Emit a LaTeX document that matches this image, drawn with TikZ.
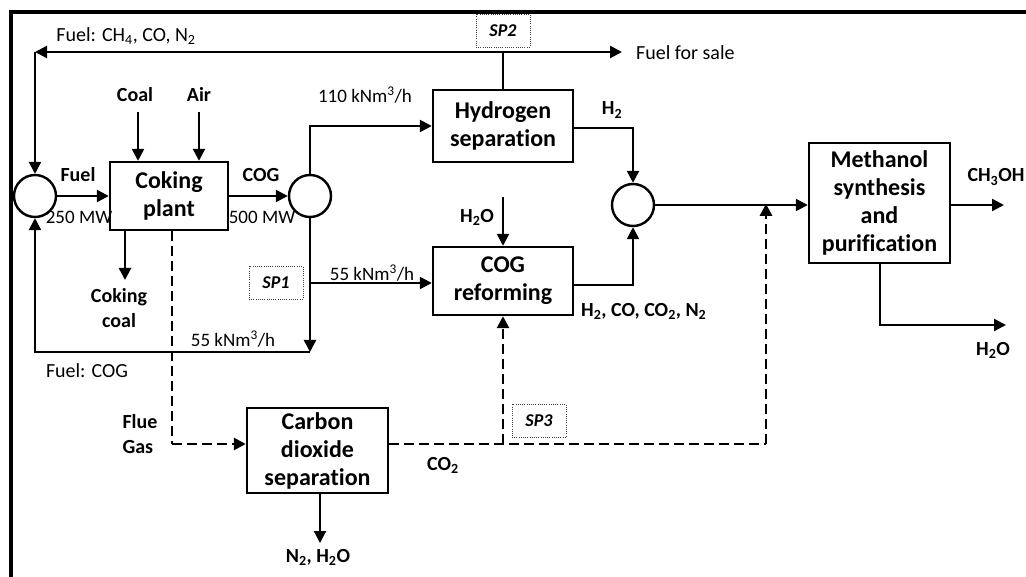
\documentclass[tikz,border=0pt]{standalone}
\usepackage{fontspec}
\setmainfont{Carlito}[Ligatures=NoCommon]
\usetikzlibrary{arrows.meta,calc}
\begin{document}
\begin{tikzpicture}[x=1pt,y=-1pt,
 line width=2.4pt,
 >={Triangle[length=12pt,width=12pt]},
 box/.style={draw,line width=2.4pt,align=center,font=\fontsize{24}{28}\selectfont\bfseries,inner sep=0pt},
 mixer/.style={draw,circle,line width=2.4pt,minimum size=42pt,inner sep=0pt},
 splitbox/.style={draw=black!75,text=black,line width=0.9pt,dash pattern=on 1pt off 1.2pt,font=\fontsize{18}{20}\selectfont\bfseries\itshape,inner sep=0pt,minimum width=54pt,minimum height=33pt},
 blab/.style={font=\fontsize{20}{25}\selectfont\bfseries,align=center,inner sep=0pt},
 rlab/.style={font=\fontsize{20}{22}\selectfont,inner sep=0pt},
 flab/.style={font=\fontsize{19}{22}\selectfont,inner sep=0pt},
 dsh/.style={line width=2.6pt,dash pattern=on 10pt off 5pt}]
\useasboundingbox (0,0) rectangle (1026,577);
% frame
\draw[line width=4pt] (10.5,577) -- (10.5,12.5) -- (1026,12.5);

% process nodes
\node[mixer] (cl) at (35,196) {};
\node[box,minimum width=118pt,minimum height=68pt] (coke) at (169,196) {Coking\\plant};
\node[mixer] (cm) at (310,196) {};
\node[box,minimum width=140pt,minimum height=72pt] (hyd) at (503,126) {Hydrogen\\separation};
\node[box,minimum width=140pt,minimum height=68pt] (ref) at (503,281) {COG\\reforming};
\node[mixer] (mx) at (633,205) {};
\node[box,minimum width=141pt,minimum height=120pt] (meth) at (879.5,203) {Methanol\\synthesis\\and\\purification};
\node[box,minimum width=141pt,minimum height=85pt] (carb) at (317.5,450.5) {Carbon\\dioxide\\separation};

% splitter boxes
\node[splitbox] (sp2) at (503,31) {SP2};
\node[splitbox] (sp1) at (276,283) {SP1};
\node[splitbox] (sp3) at (539,421) {SP3};

% coordinates
\coordinate (tl) at (35,52);
\coordinate (tj) at (503,52);
\coordinate (sale) at (622,52);
\coordinate (coal) at (138,112);
\coordinate (air) at (199,112);
\coordinate (cokecoal) at (125,280);
\coordinate (bj) at (310,352);
\coordinate (bl) at (35,352);
\coordinate (s1) at (310,283);
\coordinate (h2oin) at (503,197);
\coordinate (flue) at (172,444);
\coordinate (n2out) at (320,543);
\coordinate (co2r) at (766,444);
\coordinate (co2j) at (766,205);
\coordinate (s3) at (503,444);
\coordinate (meoh) at (1004,205);
\coordinate (wd) at (880,325);
\coordinate (wout) at (1006,325);

% solid connectors
\draw[->] (cl.east) -- (coke.west);
\draw[->] (coke.east) -- (cm.west);
\draw[->] (coal) -- (coal |- coke.north);
\draw[->] (air) -- (air |- coke.north);
\draw[->] (coke.south -| cokecoal) -- (cokecoal);
\draw[->] (cm.north) |- (hyd.west);
\draw[->] (cm.south) -- (bj);
\draw[->] (bj) -- (bl) -- (cl.south);
\draw[->] (s1) -- (s1 -| ref.west);
\draw (hyd.north) -- (tj);
\draw[->] (tj) -- (tl);
\draw[->] (tl) -- (cl.north);
\draw[->] (tj) -- (sale);
\draw[->] ([yshift=-2pt]hyd.east) -| (mx.north);
\draw[->] ([yshift=-4pt]ref.east) -| (mx.south);
\draw[->] (h2oin) -- (ref.north);
\draw[->] (mx.east) -- (mx.east -| meth.west);
\draw[->] (meth.east |- meoh) -- (meoh);
\draw[->] (meth.south -| wd) -- (wd) -- (wout);
\draw[->] (carb.south -| n2out) -- (n2out);

% dashed connectors
\draw[dsh] (coke.south -| flue) -- (flue);
\draw[dsh,->] (flue) -- (flue -| carb.west);
\draw[dsh] (carb.east |- co2r) -- (co2r);
\draw[dsh,->] (co2r) -- ([yshift=1.2pt]co2j);
\draw[dsh,->] (s3) -- (ref.south);

% labels
\node[rlab] at (126,36) {Fuel: CH\textsubscript{4}, CO, N\textsubscript{2}};
\node[rlab,anchor=west] at (635,53) {Fuel for sale};
\node[blab] at (135,95) {Coal};
\node[blab] at (199,94) {Air};
\node[flab] at (365,95) {110 kNm\textsuperscript{3}/h};
\node[blab] at (78,175) {Fuel};
\node[flab] at (79,217) {250 MW};
\node[blab] at (261,175) {COG};
\node[flab] at (262,217) {500 MW};
\node[blab] at (612,110) {H\textsubscript{2}};
\node[blab] at (996,177) {CH\textsubscript{3}OH};
\node[blab] at (477,217) {H\textsubscript{2}O};
\node[flab] at (372,273) {55 kNm\textsuperscript{3}/h};
\node[blab] at (119,308) {Coking\\coal};
\node[blab,anchor=west] at (580,311) {H\textsubscript{2}, CO, CO\textsubscript{2}, N\textsubscript{2}};
\node[flab] at (233,339) {55 kNm\textsuperscript{3}/h};
\node[blab] at (993,350) {H\textsubscript{2}O};
\node[rlab] at (87,371) {Fuel: COG};
\node[blab,align=left] at (140,434) {Flue\\Gas};
\node[blab] at (443,465) {CO\textsubscript{2}};
\node[blab] at (318,557) {N\textsubscript{2}, H\textsubscript{2}O};
\end{tikzpicture}
\end{document}
